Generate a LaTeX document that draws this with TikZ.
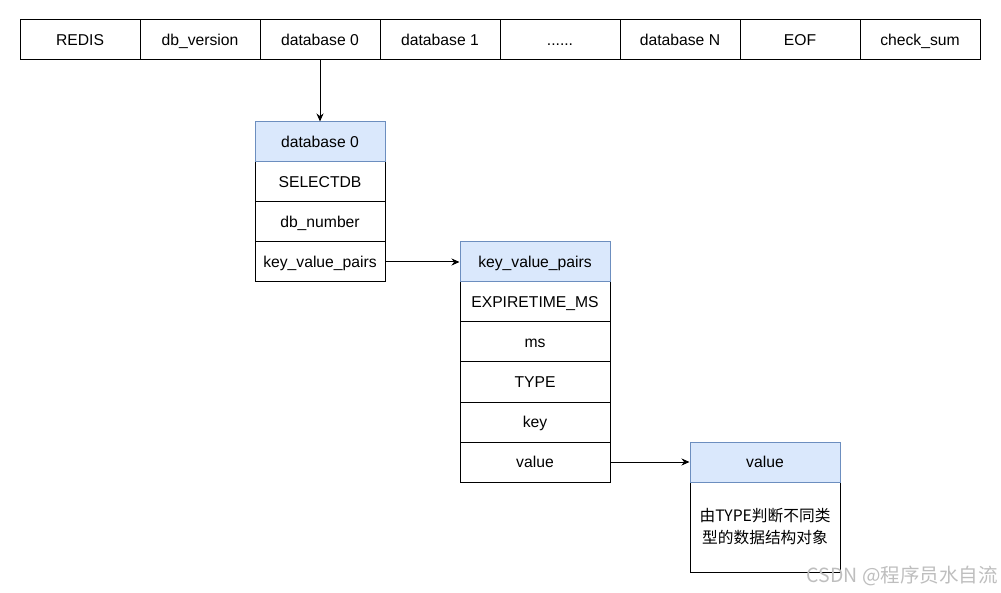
\documentclass[tikz,border=0pt]{standalone}
\usepackage{fontspec}
\setmainfont{Liberation Sans}
\newfontfamily\cjk{Noto Sans CJK SC}
\usetikzlibrary{arrows.meta}
\definecolor{hdrfill}{HTML}{DAE8FC}
\definecolor{hdrline}{HTML}{6C8EBF}
\definecolor{wmark}{HTML}{BEBEBE}
\begin{document}
\begin{tikzpicture}[x=1pt,y=-1pt,
  every node/.style={font=\fontsize{15.7}{19}\selectfont, inner sep=0pt},
  txt/.style={text height=14.5pt, text depth=3pt},
  cell/.style={txt, draw=black, line width=1pt, fill=white, minimum width=120pt, minimum height=40pt},
  dbcell/.style={txt, draw=black, line width=1pt, fill=white, minimum width=130pt, minimum height=40pt},
  kvcell/.style={txt, draw=black, line width=1pt, fill=white, minimum width=150pt, minimum height=40pt},
  dbhdr/.style={dbcell, draw=hdrline, fill=hdrfill},
  kvhdr/.style={kvcell, draw=hdrline, fill=hdrfill},
  bodybox/.style={draw=black, line width=1pt, fill=white, minimum width=150pt, minimum height=90pt, align=center},
  conn/.style={line width=1pt, -{Stealth[length=8pt,width=7pt]}}]
\useasboundingbox (0,0) rectangle (1001,593);
% top row
\node[cell] (r1) at (80,40) {REDIS};
\node[cell] (r2) at (200,40) {db\_version};
\node[cell] (r3) at (320,40) {database 0};
\node[cell] (r4) at (440,40) {database 1};
\node[cell] (r5) at (560,40) {......};
\node[cell] (r6) at (680,40) {database N};
\node[cell] (r7) at (800,40) {EOF};
\node[cell] (r8) at (920,40) {check\_sum};
% database 0
\node[dbcell] (d1) at (320,182) {SELECTDB};
\node[dbcell] (d2) at (320,222) {db\_number};
\node[dbcell] (d3) at (320,262) {key\_value\_pairs};
\node[dbhdr] (d0) at (320,142) {database 0};
% key value pairs
\node[kvcell] (k1) at (535,302) {EXPIRETIME\_MS};
\node[kvcell] (k2) at (535,342) {ms};
\node[kvcell] (k3) at (535,382) {TYPE};
\node[kvcell] (k4) at (535,422) {key};
\node[kvcell] (k5) at (535,462) {value};
\node[kvhdr] (k0) at (535,262) {key\_value\_pairs};
% value
\node[bodybox, font=\cjk\fontsize{15.7}{22}\selectfont] (vb) at (765,527) {由TYPE判断不同类\\型的数据结构对象};
\node[kvhdr] (vh) at (765,462) {value};
% connectors
\draw[conn] (r3.south) -- (d0.north);
\draw[conn] (d3.east) -- (k0.west);
\draw[conn] (k5.east) -- (vh.west);
% watermark
\node[anchor=east, text=wmark, font=\cjk\fontsize{19.5}{22}\selectfont] (wm) at (998,576) {CSDN @程序员水自流};
\end{tikzpicture}
\end{document}
